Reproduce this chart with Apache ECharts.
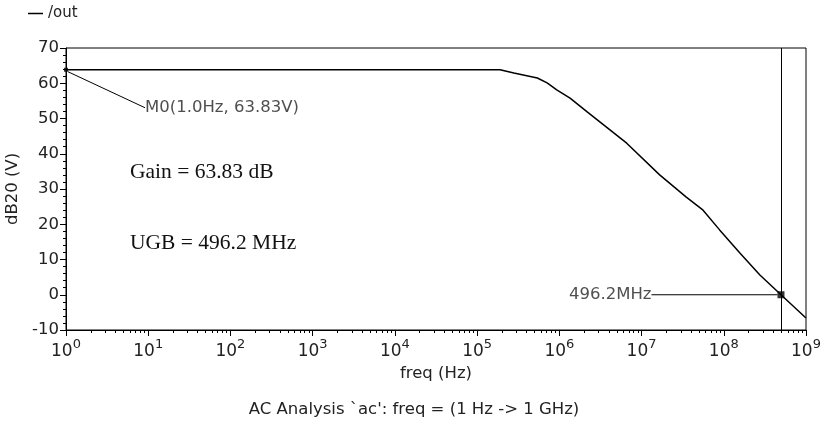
<!DOCTYPE html>
<html>
<head>
<meta charset="utf-8">
<script src="https://cdn.jsdelivr.net/npm/echarts@6/dist/echarts.min.js"></script>
<style>
  html, body { margin: 0; padding: 0; background: #fff; }
  #chart { width: 828px; height: 427px; }
</style>
</head>
<body>
<div id="chart"></div>
<script>
// frequency (Hz) and gain (dB20)
const freqHz = [1, 10, 100, 1e3, 1e4, 1e5, 1.9e5, 2.8e5, 5.4e5, 7.1e5, 9.3e5, 1.35e6, 2.2e6, 6.6e6, 1.66e7, 3.5e7, 5.6e7, 8.9e7, 1.58e8, 2.75e8, 4.962e8, 1e9];
const gainDb = [63.83, 63.83, 63.83, 63.83, 63.83, 63.83, 63.8, 62.9, 61.5, 60.1, 58.1, 55.8, 51.8, 43.0, 34.0, 27.7, 24.0, 18.4, 11.8, 5.6, 0.0, -6.6];

// markers
const m0 = [1, 63.83];
const ugb = [4.962e8, 0];

const decades = [0, 1, 2, 3, 4, 5, 6, 7, 8, 9];
const yTicks = [-10, 0, 10, 20, 30, 40, 50, 60, 70];

const lg = v => Math.log10(v);

// minor ticks 2..9 in each decade (in log10 space)
const minorTicks = [];
decades.slice(0, -1).forEach(d => {
  for (let k = 2; k <= 9; k++) minorTicks.push(d + Math.log10(k));
});

const chart = echarts.init(document.getElementById('chart'), null, { renderer: 'canvas' });

const txt = '#222';
const font = 'DejaVu Sans';
const fs = 16.5;

const option = {
  animation: false,
  textStyle: { fontFamily: font, color: txt },
  title: {
    text: "AC Analysis `ac': freq = (1 Hz -> 1 GHz)",
    left: 'center',
    top: 396,
    textStyle: { fontFamily: font, fontWeight: 'normal', fontSize: fs, color: txt }
  },
  legend: {
    data: ['/out'],
    left: 23,
    top: 1,
    icon: 'rect',
    itemWidth: 15,
    itemHeight: 1.5,
    itemGap: 6,
    textStyle: { fontFamily: font, fontSize: 15, color: txt }
  },
  grid: {
    left: 66, right: 22, top: 48, bottom: 97,
    outerBoundsMode: 'none',
    show: true, borderColor: '#000', borderWidth: 1
  },
  xAxis: [
    {
      type: 'value',
      min: decades[0],
      max: decades[decades.length - 1],
      interval: 1,
      name: 'freq (Hz)',
      nameLocation: 'middle',
      nameGap: 33,
      nameTextStyle: { fontFamily: font, fontSize: fs, color: txt },
      axisLine: { onZero: false, lineStyle: { color: '#000', width: 1 } },
      axisTick: { show: true, length: 6, lineStyle: { color: '#000' } },
      splitLine: { show: false },
      axisLabel: {
        margin: 8,
        formatter: v => '{b|10}{s|' + v + '}',
        rich: {
          b: { fontFamily: font, fontSize: 17, color: txt, lineHeight: 22, verticalAlign: 'bottom' },
          s: { fontFamily: font, fontSize: 13, color: txt, lineHeight: 22, verticalAlign: 'top' }
        }
      }
    },
    {
      type: 'value',
      position: 'bottom',
      min: decades[0],
      max: decades[decades.length - 1],
      axisLine: { show: false, onZero: false },
      axisLabel: { show: false },
      splitLine: { show: false },
      axisTick: { show: true, length: 3, customValues: minorTicks, lineStyle: { color: '#000' } }
    }
  ],
  yAxis: {
    type: 'value',
    min: yTicks[0],
    max: yTicks[yTicks.length - 1],
    interval: 10,
    name: 'dB20 (V)',
    nameLocation: 'middle',
    nameGap: 41,
    nameRotate: 90,
    nameTextStyle: { fontFamily: font, fontSize: fs, color: txt },
    axisLine: { show: true, onZero: false, lineStyle: { color: '#000', width: 1 } },
    axisTick: { show: true, length: 6, lineStyle: { color: '#000' } },
    minorTick: { show: true, splitNumber: 5, length: 3, lineStyle: { color: '#000' } },
    splitLine: { show: false },
    axisLabel: { margin: 7, fontFamily: font, fontSize: fs, color: txt }
  },
  series: [
    {
      name: '/out',
      type: 'line',
      xAxisIndex: 0,
      showSymbol: false,
      symbol: 'none',
      data: freqHz.map((f, i) => [lg(f), gainDb[i]]),
      lineStyle: { color: '#000', width: 1.5 },
      itemStyle: { color: '#000' },
      markLine: {
        silent: true,
        symbol: 'none',
        label: { show: false },
        lineStyle: { color: '#000', width: 1, type: 'solid' },
        data: [{ xAxis: lg(ugb[0]) }]
      }
    },
    {
      name: 'M0',
      type: 'scatter',
      xAxisIndex: 0,
      symbol: 'rect',
      symbolSize: 4,
      itemStyle: { color: '#000' },
      data: [[lg(m0[0]), m0[1]]],
      label: {
        show: true,
        position: 'right',
        formatter: 'M0(1.0Hz, 63.83V)',
        fontFamily: font,
        fontSize: fs,
        color: txt
      },
      labelLayout: { dx: 72, dy: 38 },
      labelLine: { show: true, lineStyle: { color: '#000', width: 1 } }
    },
    {
      name: 'UGB',
      type: 'scatter',
      xAxisIndex: 0,
      symbol: 'rect',
      symbolSize: 7,
      itemStyle: { color: '#000' },
      data: [[lg(ugb[0]), ugb[1]]],
      label: {
        show: true,
        position: 'left',
        formatter: '496.2MHz',
        fontFamily: font,
        fontSize: fs,
        color: txt
      },
      labelLayout: { dx: -121, dy: 0 },
      labelLine: { show: true, lineStyle: { color: '#000', width: 1 } }
    }
  ],
  graphic: [
    {
      type: 'text', left: 130, top: 161,
      style: { text: 'Gain = 63.83 dB', fontFamily: 'Liberation Serif', fontSize: 21.5, fill: '#111' }
    },
    {
      type: 'text', left: 130, top: 232,
      style: { text: 'UGB = 496.2 MHz', fontFamily: 'Liberation Serif', fontSize: 21.5, fill: '#111' }
    }
  ]
};

chart.setOption(option);
</script>
</body>
</html>
